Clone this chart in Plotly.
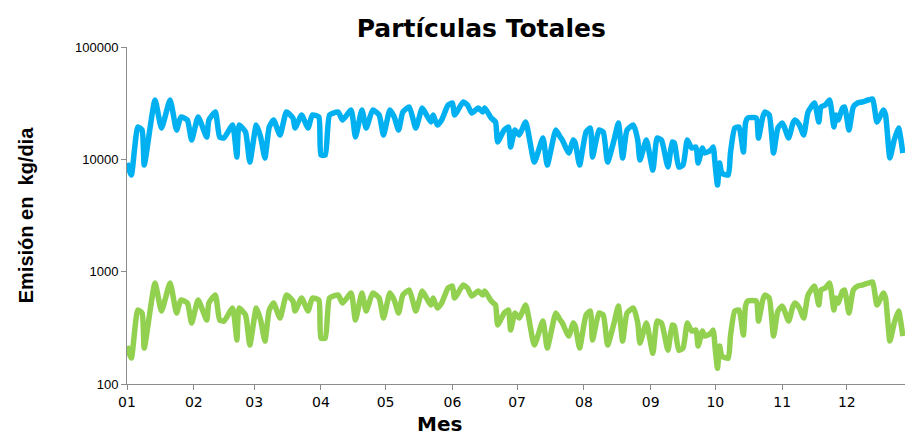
import pandas as pd
import plotly.graph_objects as go

# day-of-year (0 = 1 Jan) of each traced vertex
days = [0,2,5,7,8,13,16,20,23,25,28,30,33,37,38,41,43,45,49,51,52,55,57,60,62,64,66,68,71,74,
        77,78,81,84,86,89,90,92,94,98,100,104,106,109,111,114,117,119,122,124,126,128,131,134,137,
        139,141,142,144,146,149,151,152,156,158,160,163,165,166,169,171,172,175,177,178,180,182,185,
        189,193,195,199,201,202,205,207,208,210,213,215,216,219,221,223,226,228,230,232,235,237,238,
        241,244,246,248,251,253,254,256,258,260,262,264,265,267,268,271,272,273,274,275,276,279,280,
        282,284,286,287,288,292,293,295,296,298,300,302,304,305,307,309,310,312,314,316,319,321,322,
        324,326,328,329,330,332,333,335,337,339,341,344,346,348,351,352,354,356,358,360]

serie_azul = [9270,7250,19400,18230,8900,33730,19000,33730,18230,23810,
              22390,14850,23810,15800,22390,26380,15800,15480,20210,10480,
              20210,17500,9460,20210,15800,10270,19400,22390,16460,26380,
              23320,19000,24800,19000,24800,23810,10920,10920,24800,26380,
              22390,27480,15800,27480,19000,27480,24800,16460,27480,23810,
              18230,26380,29220,19000,28620,24800,21490,24800,20210,22390,
              30440,31710,24800,32370,30440,25840,28620,26380,28620,23320,
              21490,14260,18230,19400,12870,18230,16460,21490,9460,15480,
              8900,18230,15800,14850,11380,14850,13970,8900,17500,19000,
              10480,18230,17500,9460,14850,21050,10270,18230,20210,14850,
              9860,14850,8030,15480,14850,8540,14260,13970,8540,8900,
              14850,12610,12870,9270,12610,11380,12100,12870,8540,5900,
              9270,7550,7250,11380,19000,19400,11610,21050,23320,23320,
              15480,23810,26380,24800,11380,19000,21050,19400,15480,21050,
              22390,20210,16460,26380,31710,21490,29220,30440,33730,19400,
              24800,22390,28620,29220,18230,29220,31710,32370,33730,34430,
              21490,27480,24800,10270,14850,19000,11380]

serie_verde = [218,170,455,428,209,792,446,792,428,559,
               526,349,559,371,526,619,371,363,474,246,
               474,411,222,474,371,241,455,526,386,619,
               547,446,582,446,582,559,256,256,582,619,
               526,645,371,645,446,645,582,386,645,559,
               428,619,686,446,672,582,504,582,474,526,
               715,744,582,760,715,607,672,619,672,547,
               504,335,428,455,302,428,386,504,222,363,
               209,428,371,349,267,349,328,209,411,446,
               246,428,411,222,349,494,241,428,474,349,
               231,349,188,363,349,200,335,328,200,209,
               349,296,302,218,296,267,284,302,200,138,
               218,177,170,267,446,455,273,494,547,547,
               363,559,619,582,267,446,494,455,363,494,
               526,474,386,619,744,504,686,715,792,455,
               582,526,672,686,428,686,744,760,792,808,
               504,645,582,241,349,446,267]

ytick_vals = [100, 1000, 10000, 100000]
ytick_text = ["100", "1000", "10000", "100000"]
month_labels = ["01","02","03","04","05","06","07","08","09","10","11","12"]

base = pd.Timestamp("2013-01-01")
fechas = [base + pd.Timedelta(days=d) for d in days]
month_ticks = [pd.Timestamp(2013, m, 1) for m in range(1, 13)]

fig = go.Figure()
fig.add_trace(go.Scatter(x=fechas, y=serie_azul, mode="lines",
                         line=dict(color="#00B0F0", width=5.5, shape="spline", smoothing=0.5),
                         showlegend=False))
fig.add_trace(go.Scatter(x=fechas, y=serie_verde, mode="lines",
                         line=dict(color="#92D050", width=5.5, shape="spline", smoothing=0.5),
                         showlegend=False))

fig.update_layout(
    width=908, height=438,
    margin=dict(l=127, r=3, t=47, b=54),
    paper_bgcolor="white", plot_bgcolor="white",
    title=dict(text="<b>Partículas Totales</b>", x=0.53, xanchor="center", y=0.935, yanchor="middle",
               font=dict(family="DejaVu Sans", size=25, color="black")),
    xaxis=dict(type="date", range=[pd.Timestamp("2013-01-01"), pd.Timestamp("2013-12-28")],
               tickvals=month_ticks, ticktext=month_labels,
               showgrid=False, zeroline=False, showline=True, linecolor="#8c8c8c", linewidth=1,
               ticks="outside", ticklen=5, tickcolor="#8c8c8c",
               tickfont=dict(family="DejaVu Sans", size=14, color="black")),
    yaxis=dict(type="log", range=[2, 5], tickvals=ytick_vals, ticktext=ytick_text,
               showgrid=False, zeroline=False, showline=True, linecolor="#8c8c8c", linewidth=1,
               ticks="outside", ticklen=5, tickcolor="#8c8c8c",
               tickfont=dict(family="Liberation Sans, Arial", size=13, color="black"),
               title=dict(text="<b>Emisión en  kg/dia</b>", standoff=36,
                          font=dict(family="Liberation Sans, Arial", size=20, color="black"))),
    annotations=[dict(text="<b>Mes</b>", xref="paper", yref="paper", x=0.402, y=-0.119,
                      xanchor="center", yanchor="middle", showarrow=False,
                      font=dict(family="DejaVu Sans", size=20, color="black"))],
)

fig.write_html("out.html")
